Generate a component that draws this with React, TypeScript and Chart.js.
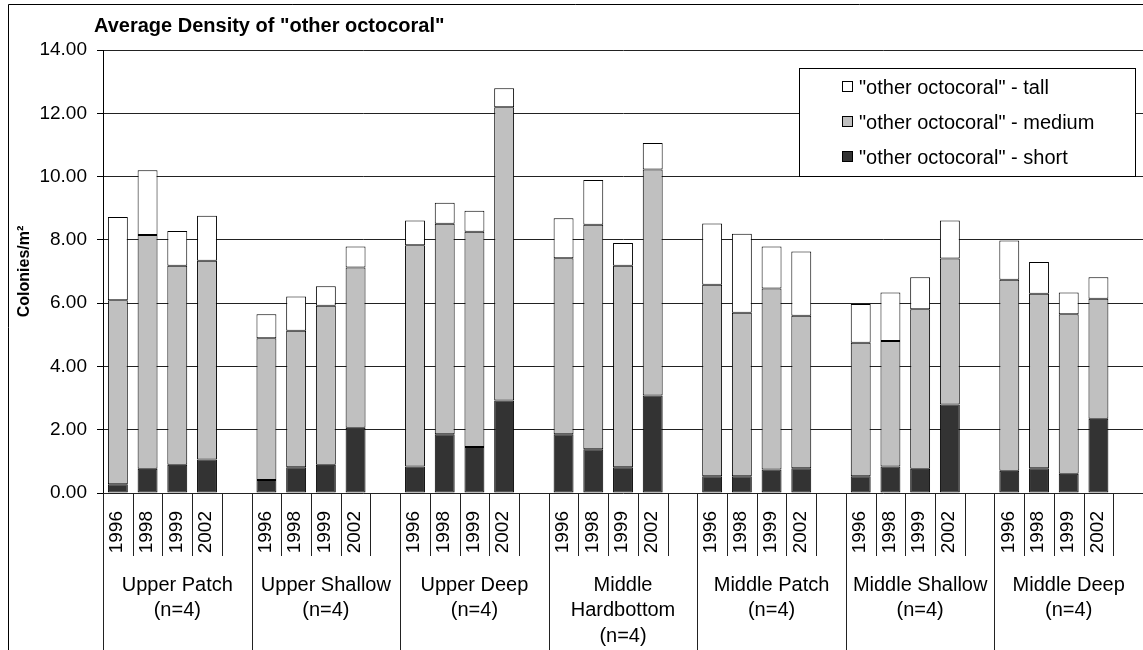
import React, { useEffect, useRef } from "react";
import { Chart, registerables } from "chart.js";

Chart.register(...registerables);

const TITLE = 'Average Density of "other octocoral"';
const Y_TITLE = "Colonies/m\u00B2";
const YEARS = ["1996", "1998", "1999", "2002"];
const SITES = [
  ["Upper Patch", "(n=4)"],
  ["Upper Shallow", "(n=4)"],
  ["Upper Deep", "(n=4)"],
  ["Middle", "Hardbottom", "(n=4)"],
  ["Middle Patch", "(n=4)"],
  ["Middle Shallow", "(n=4)"],
  ["Middle Deep", "(n=4)"],
];
const Y_TICKS = [0, 2, 4, 6, 8, 10, 12, 14];

// values per site, years 1996, 1998, 1999, 2002
const SHORT = [
  0.28, 0.77, 0.89, 1.06,
  0.41, 0.81, 0.89, 2.06,
  0.84, 1.86, 1.45, 2.92,
  1.86, 1.38, 0.81, 3.08,
  0.53, 0.53, 0.74, 0.78,
  0.53, 0.84, 0.77, 2.8,
  0.7, 0.78, 0.61, 2.35,
];
const MEDIUM = [
  5.81, 7.38, 6.29, 6.28,
  4.48, 4.32, 5.03, 5.07,
  6.99, 6.65, 6.81, 9.27,
  5.56, 7.1, 6.37, 7.14,
  6.05, 5.17, 5.72, 4.82,
  4.22, 3.96, 5.04, 4.61,
  6.04, 5.52, 5.04, 3.79,
];
const TALL = [
  2.63, 2.05, 1.1, 1.42,
  0.76, 1.08, 0.61, 0.66,
  0.78, 0.66, 0.66, 0.6,
  1.26, 1.41, 0.72, 0.84,
  1.94, 2.49, 1.33, 2.03,
  1.22, 1.54, 1.01, 1.2,
  1.24, 1.0, 0.69, 0.68,
];

const SERIES_NAMES = [
  '"other octocoral" - short',
  '"other octocoral" - medium',
  '"other octocoral" - tall',
];
const SERIES_COLORS = ["#333333", "#c0c0c0", "#ffffff"];

const FONT = "'Liberation Sans', Arial, sans-serif";

// build slots: 4 years + 1 empty gap per site
function buildLabels(): string[] {
  const out: string[] = [];
  SITES.forEach(() => {
    YEARS.forEach((y) => out.push(y));
    out.push("");
  });
  return out;
}
function withGaps(vals: number[]): (number | null)[] {
  const out: (number | null)[] = [];
  SITES.forEach((_, g) => {
    YEARS.forEach((_, k) => out.push(vals[g * YEARS.length + k]));
    out.push(null);
  });
  return out;
}

const decorPlugin = {
  id: "decor",
  beforeDraw(chart: any) {
    const ctx = chart.ctx;
    ctx.save();
    ctx.fillStyle = "#ffffff";
    ctx.fillRect(0, 0, chart.width, chart.height);
    ctx.restore();
  },
  afterDraw(chart: any) {
    const ctx: CanvasRenderingContext2D = chart.ctx;
    const xs = chart.scales.x;
    const area = chart.chartArea;
    const H = chart.height;
    const W = chart.width;
    ctx.save();

    // outer frame
    ctx.strokeStyle = "#000";
    ctx.lineWidth = 1;
    ctx.beginPath();
    ctx.moveTo(8.5, H);
    ctx.lineTo(8.5, 4.5);
    ctx.lineTo(W, 4.5);
    ctx.stroke();

    // title
    ctx.fillStyle = "#000";
    ctx.font = `bold 20px ${FONT}`;
    ctx.textAlign = "left";
    ctx.textBaseline = "alphabetic";
    ctx.fillText(TITLE, 94, 32);

    // x axis category lines
    const n = chart.data.labels.length;
    const half = (xs.getPixelForValue(1) - xs.getPixelForValue(0)) / 2;
    const per = YEARS.length + 1;
    ctx.strokeStyle = "#222";
    ctx.beginPath();
    for (let i = 0; i < n; i++) {
      const lx = Math.round(xs.getPixelForValue(i) - half) + 0.5;
      const long = i % per === 0;
      ctx.moveTo(lx, area.bottom);
      ctx.lineTo(lx, long ? H : 556);
    }
    ctx.stroke();

    // year labels (rotated)
    ctx.fillStyle = "#000";
    ctx.font = `19px ${FONT}`;
    ctx.textAlign = "right";
    ctx.textBaseline = "middle";
    for (let i = 0; i < n; i++) {
      const lab = chart.data.labels[i];
      if (!lab) continue;
      const cx = xs.getPixelForValue(i) - 1;
      ctx.save();
      ctx.translate(cx, area.bottom);
      ctx.rotate(-Math.PI / 2);
      ctx.fillText(lab, -18, 0);
      ctx.restore();
    }

    // site labels
    ctx.textAlign = "center";
    ctx.font = `20px ${FONT}`;
    SITES.forEach((lines, g) => {
      const cx = xs.getPixelForValue(g * per + 2);
      lines.forEach((t, j) => {
        ctx.fillText(t, cx, 585 + j * 25.5);
      });
    });

    // legend
    const lx = 799.5, ly = 68.5, lw = 336, lh = 108;
    ctx.fillStyle = "#fff";
    ctx.fillRect(lx, ly, lw, lh);
    ctx.strokeStyle = "#000";
    ctx.strokeRect(lx, ly, lw, lh);
    const ds = chart.data.datasets.slice().reverse();
    ctx.font = `20px ${FONT}`;
    ctx.textAlign = "left";
    ctx.textBaseline = "middle";
    ds.forEach((d: any, j: number) => {
      const cy = 87 + j * 35;
      ctx.fillStyle = d.backgroundColor;
      ctx.fillRect(842.5, cy - 5.5, 10, 10);
      ctx.strokeStyle = "#000";
      ctx.strokeRect(842.5, cy - 5.5, 10, 10);
      ctx.fillStyle = "#000";
      ctx.fillText(d.label, 859, cy + 1);
    });

    ctx.restore();
  },
};

export default function App() {
  const ref = useRef<HTMLCanvasElement>(null);
  useEffect(() => {
    if (!ref.current) return;
    const seriesVals = [SHORT, MEDIUM, TALL];
    const chart = new Chart(ref.current, {
      type: "bar",
      data: {
        labels: buildLabels(),
        datasets: seriesVals.map((vals, k) => ({
          label: SERIES_NAMES[k],
          data: withGaps(vals),
          backgroundColor: SERIES_COLORS[k],
          borderColor: "#000",
          borderWidth: 1,
          borderSkipped: false,
          barPercentage: 0.67,
          categoryPercentage: 1,
        })),
      },
      options: {
        responsive: false,
        animation: false,
        devicePixelRatio: 1,
        layout: { padding: { top: 50, bottom: 157, left: 0, right: 0 } },
        plugins: {
          legend: { display: false },
          title: { display: false },
          tooltip: { enabled: false },
        },
        scales: {
          x: { display: false, stacked: true },
          y: {
            stacked: true,
            min: 0,
            max: 14,
            afterFit: (s: any) => {
              s.width = 103;
            },
            afterBuildTicks: (s: any) => {
              s.ticks = Y_TICKS.map((v) => ({ value: v }));
            },
            ticks: {
              color: "#000",
              padding: 10,
              font: { family: FONT, size: 19 },
              callback: (v: any) => Number(v).toFixed(2),
            },
            grid: {
              color: "#222",
              tickColor: "#000",
              tickLength: 6,
            },
            border: { color: "#000", width: 1 },
            title: {
              display: true,
              text: Y_TITLE,
              color: "#000",
              font: { family: FONT, size: 16, weight: "bold" },
              padding: { top: 15, bottom: 0 },
            },
          },
        },
      },
      plugins: [decorPlugin],
    });
    return () => chart.destroy();
  }, []);
  return (
    <div style={{ position: "absolute", left: 0, top: 0, width: 1143, height: 650 }}>
      <canvas ref={ref} width={1143} height={650} style={{ width: 1143, height: 650 }} />
    </div>
  );
}
